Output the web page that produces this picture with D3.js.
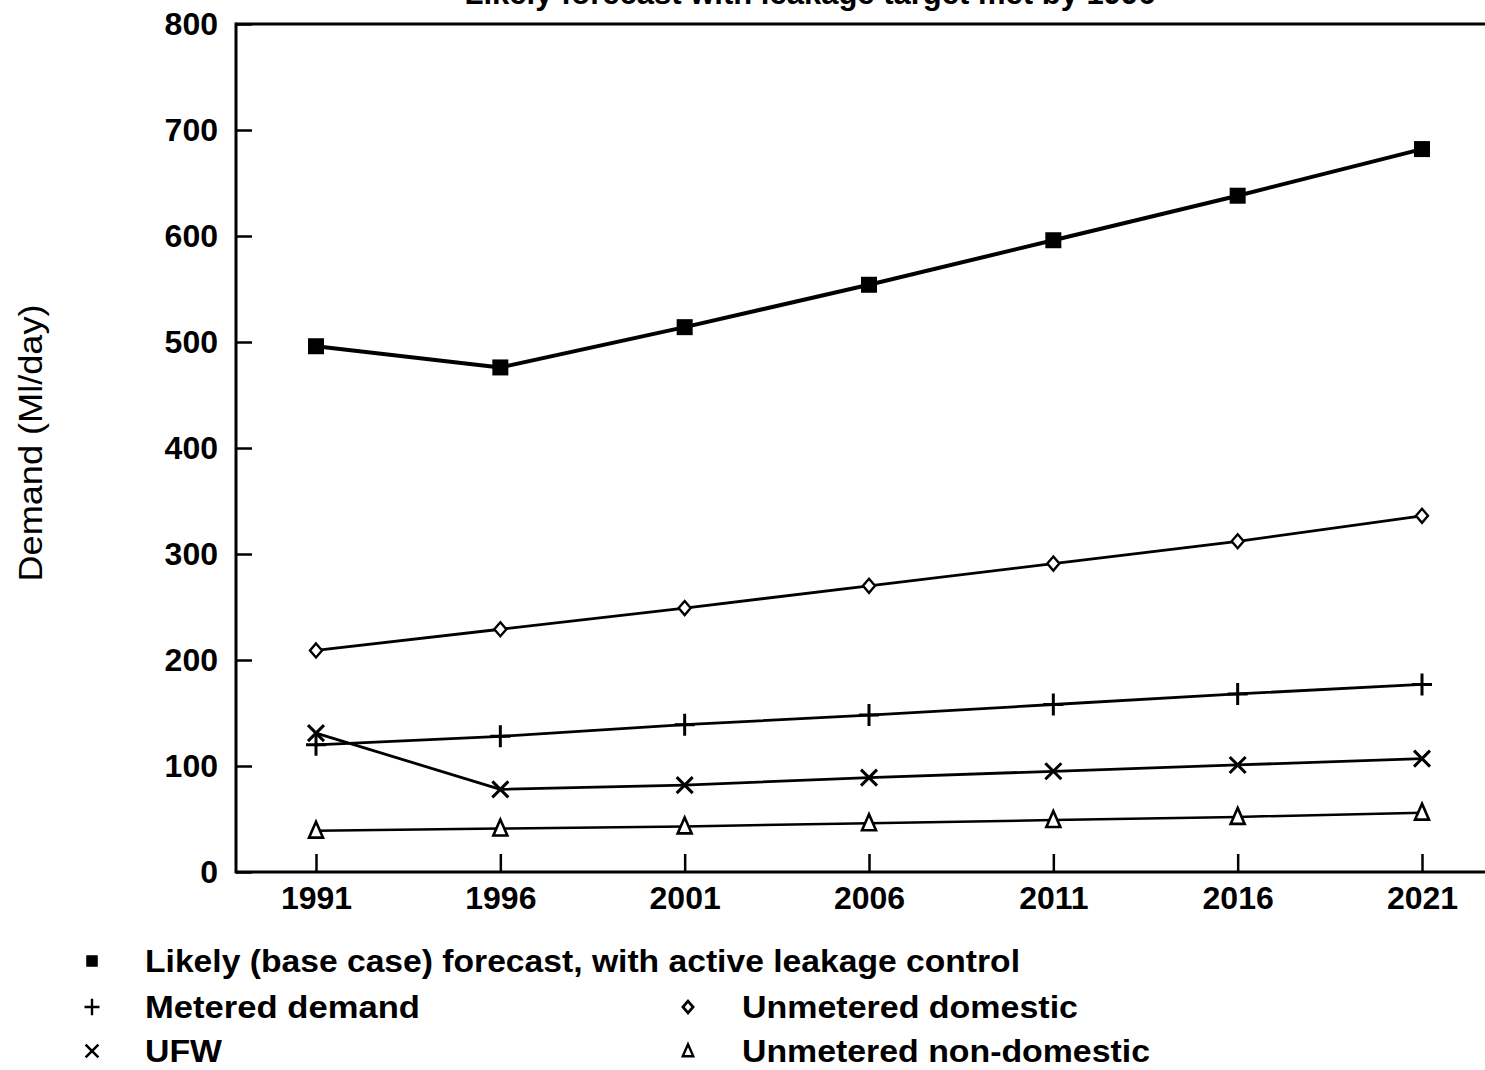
<!DOCTYPE html>
<html><head><meta charset="utf-8">
<script src="https://cdn.jsdelivr.net/npm/d3@7"></script>
<style>body{margin:0;background:#fff}svg{display:block}text{font-family:"Liberation Sans",Arial,sans-serif;fill:#000}</style>
</head><body>
<svg id="c" width="1485" height="1070"></svg>
<script>
const years = [1991, 1996, 2001, 2006, 2011, 2016, 2021];
const likely = [496, 476, 514, 554, 596, 638, 682];
const unmeteredDomestic = [209, 229, 249, 270, 291, 312, 336];
const metered = [120, 128, 139, 148, 158, 168, 177];
const ufw = [131, 78, 82, 89, 95, 101, 107];
const unmeteredNonDomestic = [39, 41, 43, 46, 49, 52, 56];
const yTicks = [0, 100, 200, 300, 400, 500, 600, 700, 800];
const title = "Likely forecast with leakage target met by 1996";
const yLabel = "Demand (Ml/day)";

const svg = d3.select("#c");
const L = 236, T = 24, B = 872, R = 1485;
const x = d3.scaleLinear().domain([1991, 2021]).range([316, 1422]);
const y = d3.scaleLinear().domain([0, 800]).range([B, T]);

// title (cut off at top, as in the source)
svg.append("text").attr("x", 810).attr("y", 4).attr("text-anchor", "middle")
  .attr("font-size", 31).attr("font-weight", "bold").text(title);

// frame
svg.append("line").attr("x1", L).attr("x2", R).attr("y1", T).attr("y2", T).attr("stroke", "#000").attr("stroke-width", 3);
svg.append("line").attr("x1", L).attr("x2", R).attr("y1", B).attr("y2", B).attr("stroke", "#000").attr("stroke-width", 3);
svg.append("line").attr("x1", L).attr("x2", L).attr("y1", T - 1.5).attr("y2", B + 1.5).attr("stroke", "#000").attr("stroke-width", 3);

// y axis
const ya = svg.append("g").attr("transform", `translate(${L},0)`)
  .call(d3.axisLeft(y).tickValues(yTicks).tickSize(-16).tickPadding(34).tickFormat(d3.format("d")));
ya.select(".domain").remove();
ya.selectAll(".tick line").attr("stroke", "#000").attr("stroke-width", 2.5);
ya.selectAll(".tick text").attr("font-size", 32).attr("font-weight", "bold").attr("font-family", "Liberation Sans, Arial, sans-serif").attr("dx", 16);

// x axis
const xa = svg.append("g").attr("transform", `translate(0,${B})`)
  .call(d3.axisBottom(x).tickValues(years).tickSize(-18).tickPadding(18).tickFormat(d3.format("d")));
xa.select(".domain").remove();
xa.selectAll(".tick line").attr("stroke", "#000").attr("stroke-width", 2.5);
xa.selectAll(".tick text").attr("font-size", 32).attr("font-weight", "bold").attr("font-family", "Liberation Sans, Arial, sans-serif").attr("dy", "0.6em");

// y label
svg.append("text").attr("transform", `translate(42,443) rotate(-90)`).attr("text-anchor", "middle")
  .attr("font-size", 34).attr("textLength", 277).attr("lengthAdjust", "spacingAndGlyphs").text(yLabel);

const line = d3.line().x((d, i) => x(years[i])).y(d => y(d));
function drawLine(vals, w) {
  svg.append("path").datum(vals).attr("d", line).attr("fill", "none").attr("stroke", "#000").attr("stroke-width", w).attr("stroke-linejoin", "round");
}
drawLine(unmeteredNonDomestic, 2.5);
drawLine(ufw, 2.8);
drawLine(metered, 2.8);
drawLine(unmeteredDomestic, 2.8);
drawLine(likely, 4);

function marker(g, type, cx, cy, sw) {
  if (type === "square") g.append("rect").attr("x", cx - 8).attr("y", cy - 8).attr("width", 16).attr("height", 16).attr("fill", "#000");
  else if (type === "plus") g.append("path").attr("d", `M${cx-10},${cy}H${cx+10}M${cx},${cy-11}V${cy+11}`).attr("stroke", "#000").attr("stroke-width", sw || 3);
  else if (type === "cross") g.append("path").attr("d", `M${cx-8},${cy-8}L${cx+8},${cy+8}M${cx-8},${cy+8}L${cx+8},${cy-8}`).attr("stroke", "#000").attr("stroke-width", sw || 3);
  else if (type === "diamond") g.append("path").attr("d", `M${cx},${cy-7}L${cx+6},${cy}L${cx},${cy+7}L${cx-6},${cy}Z`).attr("fill", "#fff").attr("stroke", "#000").attr("stroke-width", sw || 2.4);
  else if (type === "triangle") g.append("path").attr("d", `M${cx},${cy-9}L${cx+7},${cy+7}L${cx-7},${cy+7}Z`).attr("fill", "#fff").attr("stroke", "#000").attr("stroke-width", sw || 2.6);
}
function drawMarkers(vals, type) {
  const g = svg.append("g");
  vals.forEach((v, i) => marker(g, type, x(years[i]), y(v)));
}
drawMarkers(unmeteredNonDomestic, "triangle");
drawMarkers(ufw, "cross");
drawMarkers(metered, "plus");
drawMarkers(unmeteredDomestic, "diamond");
drawMarkers(likely, "square");

// legend
const legend = [
  {label: "Likely (base case) forecast, with active leakage control", type: "square", mx: 92, tx: 145, cy: 961, w: 875, s: 0.72},
  {label: "Metered demand", type: "plus", mx: 92, tx: 145, cy: 1007, w: 275, s: 0.75},
  {label: "UFW", type: "cross", mx: 92, tx: 145, cy: 1051, w: 77, s: 0.8},
  {label: "Unmetered domestic", type: "diamond", mx: 688, tx: 742, cy: 1007, w: 336, s: 0.85},
  {label: "Unmetered non-domestic", type: "triangle", mx: 688, tx: 742, cy: 1051, w: 408, s: 0.75}
];
const lg = svg.append("g");
legend.forEach(d => {
  const g = lg.append("g").attr("transform", `translate(${d.mx},${d.cy}) scale(${d.s})`);
  marker(g, d.type, 0, 0, 3.2);
  lg.append("text").attr("x", d.tx).attr("y", d.cy + 11).attr("font-size", 32).attr("font-weight", "bold")
    .attr("textLength", d.w).attr("lengthAdjust", "spacingAndGlyphs").text(d.label);
});
</script>
</body></html>
